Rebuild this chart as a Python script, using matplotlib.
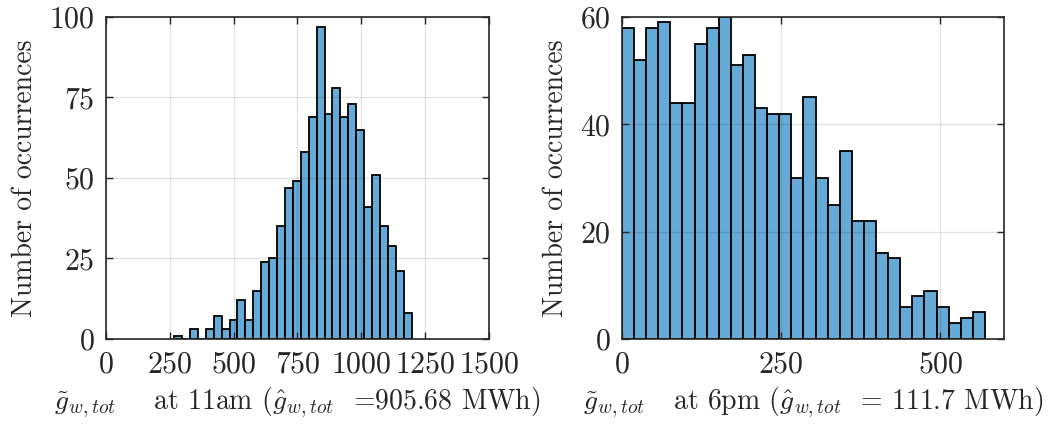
import numpy as np
import matplotlib.pyplot as plt

plt.rcParams['font.family'] = 'cmr10'
plt.rcParams['mathtext.fontset'] = 'cm'
plt.rcParams['axes.formatter.use_mathtext'] = True

# histogram counts (1000 scenarios each)
counts_11am = [1, 0, 3, 0, 3, 7, 3, 6, 12, 6, 15, 24, 25, 35, 47, 49, 58, 69, 97, 70,
               78, 69, 73, 65, 41, 51, 35, 29, 21, 8]
counts_6pm = [58, 52, 58, 59, 44, 44, 55, 58, 60, 51, 53, 43, 42, 42, 30, 45, 30, 25, 35, 22,
              22, 16, 15, 6, 8, 9, 6, 3, 4, 5]
start_11am, width_11am = 267, 31
start_6pm, width_6pm = 0, 19

xticks_11am = [0, 250, 500, 750, 1000, 1250, 1500]
yticks_11am = [0, 25, 50, 75, 100]
xticks_6pm = [0, 250, 500]
yticks_6pm = [0, 20, 40, 60]

label_11am = r'$\tilde{g}_{w,tot}$    at 11am ($\hat{g}_{w,tot}$  =905.68 MWh)'
label_6pm = r'$\tilde{g}_{w,tot}$   at 6pm ($\hat{g}_{w,tot}$  = 111.7 MWh)'

FACE = '#66aad7'
DARK = '#262626'
FS = 20


def draw_hist(ax, counts, start, width, xticks, yticks, xlim, xlabel):
    left = start + width * np.arange(len(counts))
    ax.bar(left, counts, width=width, align='edge', color=FACE,
           edgecolor='black', linewidth=1.3, zorder=2)
    ax.set_xlim(*xlim)
    ax.set_ylim(yticks[0], yticks[-1])
    ax.set_xticks(xticks)
    ax.set_yticks(yticks)
    ax.grid(True, color='black', alpha=0.11, linewidth=1.0, zorder=3)
    ax.set_axisbelow(False)
    ax.tick_params(direction='in', top=True, right=True, length=5, width=1,
                   colors=DARK, labelsize=21.5)
    ax.tick_params(axis='x', pad=9)
    ax.tick_params(axis='y', pad=8)
    for s in ax.spines.values():
        s.set_color(DARK)
        s.set_linewidth(1.2)
        s.set_zorder(4)
    ax.set_xlabel(xlabel, fontsize=FS, color=DARK, labelpad=5)
    ax.set_ylabel('Number of occurrences', fontsize=FS, color=DARK, labelpad=8)


fig = plt.figure(figsize=(10.49, 4.29), dpi=100)
ax1 = fig.add_axes([0.1010, 0.2098, 0.3652, 0.7506])
ax2 = fig.add_axes([0.5929, 0.2098, 0.3642, 0.7506])

draw_hist(ax1, counts_11am, start_11am, width_11am, xticks_11am, yticks_11am, (0, 1500), label_11am)
draw_hist(ax2, counts_6pm, start_6pm, width_6pm, xticks_6pm, yticks_6pm, (0, 600), label_6pm)

fig.savefig('out.png', dpi=100)
